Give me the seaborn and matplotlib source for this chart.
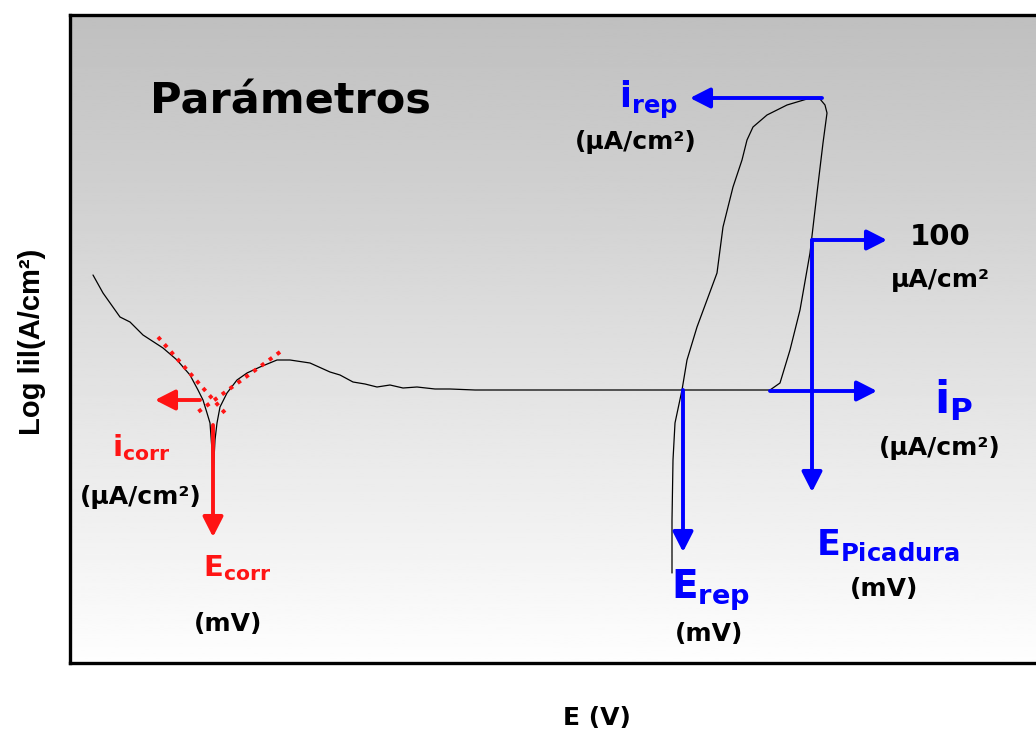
import numpy as np
import pandas as pd
import matplotlib
matplotlib.use("Agg")
import matplotlib.pyplot as plt
import seaborn as sns

# ---------------- data (E in mV, log|i| in log(A/cm2)) ----------------
fwd_E = [-814, -794, -760, -740, -714, -674, -646, -620, -604, -594, -586, -580,
         -576, -574, -570, -566, -560, -546, -526, -506, -480, -446, -420, -380,
         -340, -320, -294, -270, -246, -220, -194, -166, -130, -100, -50, 0, 100,
         200, 300, 400, 480, 540, 560, 580, 600, 620, 634, 646, 654, 650, 640]
fwd_logi = [-5.12, -5.30, -5.54, -5.59, -5.72, -5.85, -5.97, -6.12, -6.27, -6.37,
            -6.50, -6.60, -6.87, -7.15, -6.77, -6.60, -6.44, -6.30, -6.17, -6.10,
            -6.04, -5.97, -5.97, -6.00, -6.09, -6.12, -6.19, -6.21, -6.24, -6.22,
            -6.25, -6.24, -6.26, -6.26, -6.27, -6.27, -6.27, -6.27, -6.27, -6.27,
            -6.27, -6.27, -6.20, -5.87, -5.47, -4.90, -4.30, -3.80, -3.50, -3.42,
            -3.36]
rev_E = [640, 614, 574, 534, 506, 494, 484, 466, 446, 434, 414, 394, 374, 364,
         350, 346, 344, 344]
rev_logi = [-3.36, -3.36, -3.42, -3.52, -3.64, -3.77, -3.97, -4.24, -4.64, -5.10,
            -5.37, -5.64, -5.97, -6.27, -6.60, -6.97, -7.57, -8.10]

tafel_cat_E = [-684, -550]
tafel_cat_logi = [-5.74, -6.50]
tafel_an_E = [-440, -604]
tafel_an_logi = [-5.89, -6.49]

E_corr, logi_corr = -574, -6.37
E_rep, logi_rep = 366, -3.35
E_pit, logi_100 = 624, -4.77
logi_p = -6.28

# ---------------- figure ----------------
sns.set_style("white")
plt.rcParams["font.family"] = ["DejaVu Sans"]
plt.rcParams["mathtext.fontset"] = "dejavusans"
plt.rcParams["text.color"] = "black"

fig = plt.figure(figsize=(10.36, 7.35), dpi=100)
ax = fig.add_axes([70 / 1036, 72 / 735, 966 / 1036, 648 / 735])
xlim = (-860, 1072)
ylim = (-9.0, -2.52)
ax.set_xlim(*xlim)
ax.set_ylim(*ylim)

grad = np.linspace(0.995, 0.75, 256).reshape(-1, 1)
ax.imshow(grad, extent=[xlim[0], xlim[1], ylim[0], ylim[1]], aspect="auto",
          cmap="gray", vmin=0, vmax=1, origin="lower", zorder=0)

fwd = pd.DataFrame({"E": fwd_E, "logi": fwd_logi})
rev = pd.DataFrame({"E": rev_E, "logi": rev_logi})
sns.lineplot(data=fwd, x="E", y="logi", sort=False, estimator=None, color="black",
             lw=0.9, ax=ax, zorder=3)
sns.lineplot(data=rev, x="E", y="logi", sort=False, estimator=None, color="black",
             lw=0.9, ax=ax, zorder=3)

red = "#ff1414"
blue = "#0000ff"
for xs, ys in [(tafel_cat_E, tafel_cat_logi), (tafel_an_E, tafel_an_logi)]:
    ax.plot(xs, ys, color=red, lw=2.8, linestyle=(0, (1, 1.5)), zorder=4)


def arrow(x0, y0, x1, y1, color):
    ax.annotate("", xy=(x1, y1), xytext=(x0, y0),
                arrowprops=dict(arrowstyle="-|>,head_length=0.55,head_width=0.28",
                                lw=2.8, color=color, shrinkA=0, shrinkB=0,
                                mutation_scale=22), zorder=5)


# red arrows (i_corr, E_corr)
arrow(E_corr - 26, logi_corr, E_corr - 116, logi_corr, red)
arrow(E_corr, logi_corr - 0.25, E_corr, logi_corr - 1.37, red)
# blue arrows
arrow(E_rep + 278, logi_rep, E_rep + 14, logi_rep, blue)
arrow(E_pit, logi_100, E_pit + 150, logi_100, blue)
arrow(E_pit, logi_100, E_pit, logi_100 - 2.52, blue)
arrow(540, logi_p, 754, logi_p, blue)
arrow(E_rep, logi_p + 0.01, E_rep, logi_p - 1.61, blue)

# ---------------- texts ----------------
tkw = dict(fontweight="bold", ha="center", va="center", zorder=6, color="black")
ax.text(-700, -3.38, "Parámetros", fontsize=31, ha="left", va="center",
        fontweight="bold", zorder=6, color="black")

ax.text(298, -3.37, r"$\mathbf{i}_{\mathbf{rep}}$", **{**tkw, "color": blue}, fontsize=25)
ax.text(272, -3.79, "(μA/cm²)", fontsize=18, **tkw)

ax.text(880, -4.74, "100", fontsize=21, **tkw)
ax.text(880, -5.17, "μA/cm²", fontsize=18, **tkw)

ax.text(908, -6.37, r"$\mathbf{i}_{\mathbf{P}}$", **{**tkw, "color": blue}, fontsize=32)
ax.text(880, -6.85, "(μA/cm²)", fontsize=18, **tkw)

ax.text(776, -7.82, r"$\mathbf{E}_{\mathbf{Picadura}}$", **{**tkw, "color": blue}, fontsize=25)
ax.text(768, -8.26, "(mV)", fontsize=18, **tkw)

ax.text(422, -8.27, r"$\mathbf{E}_{\mathbf{rep}}$", **{**tkw, "color": blue}, fontsize=28)
ax.text(418, -8.71, "(mV)", fontsize=18, **tkw)

ax.text(-718, -6.85, r"$\mathbf{i}_{\mathbf{corr}}$", **{**tkw, "color": red}, fontsize=21)
ax.text(-718, -7.34, "(μA/cm²)", fontsize=18, **tkw)

ax.text(-526, -8.05, r"$\mathbf{E}_{\mathbf{corr}}$", **{**tkw, "color": red}, fontsize=21)
ax.text(-544, -8.61, "(mV)", fontsize=18, **tkw)

# axis labels
ax.set_xlabel("")
ax.set_ylabel("")
fig.text(32 / 1036, 1 - 342 / 735, "Log lil(A/cm²)", rotation=90, fontsize=21,
         fontweight="bold", ha="center", va="center", color="black",
         family=["Liberation Sans", "DejaVu Sans"])
fig.text(597 / 1036, 1 - 718 / 735, "E (V)", fontsize=18, fontweight="bold",
         ha="center", va="center", color="black")

ax.set_xticks([])
ax.set_yticks([])
for side in ["left", "top", "bottom"]:
    ax.spines[side].set_color("black")
    ax.spines[side].set_linewidth(2.4)
    ax.spines[side].set_visible(True)
ax.spines["right"].set_visible(False)

fig.savefig("out.png", dpi=100)
